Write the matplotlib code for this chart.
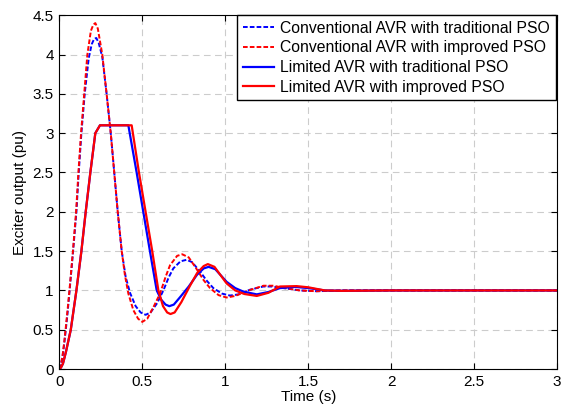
import matplotlib
matplotlib.use("Agg")
import matplotlib.pyplot as plt

plt.rcParams['font.family'] = ['Liberation Sans', 'DejaVu Sans']

# Conventional AVR with traditional PSO (blue dashed)
t_ct = [0, 0.01, 0.02, 0.03, 0.04, 0.05, 0.062, 0.083, 0.103, 0.117, 0.133, 0.153, 0.177,
        0.195, 0.21, 0.223, 0.237, 0.259, 0.285, 0.31, 0.331, 0.352, 0.376, 0.4, 0.426,
        0.46, 0.49, 0.52, 0.55, 0.59, 0.627, 0.66, 0.687, 0.73, 0.767, 0.8, 0.848, 0.89, 0.928,
        0.98, 1.028, 1.08, 1.15, 1.229, 1.28, 1.35, 1.45, 1.55, 1.7, 2.0, 2.5, 3.0]
y_ct = [0, 0.06, 0.17, 0.33, 0.52, 0.72, 1.0, 1.5, 2.0, 2.5, 3.0, 3.5, 3.95,
        4.13, 4.2, 4.21, 4.15, 3.97, 3.5, 3.0, 2.5, 2.0, 1.5, 1.17, 0.97,
        0.8, 0.72, 0.69, 0.72, 0.84, 1.0, 1.17, 1.28, 1.37, 1.39, 1.36, 1.24, 1.12, 1.03,
        0.96, 0.935, 0.95, 1.01, 1.05, 1.05, 1.03, 1.0, 0.99, 1.0, 1.0, 1.0, 1.0]

# Conventional AVR with improved PSO (red dashed)
t_ci = [0, 0.01, 0.02, 0.03, 0.04, 0.05, 0.061, 0.082, 0.101, 0.115, 0.131, 0.15, 0.169,
        0.19, 0.205, 0.217, 0.232, 0.259, 0.285, 0.31, 0.331, 0.352, 0.376, 0.395, 0.416,
        0.446, 0.475, 0.5, 0.53, 0.57, 0.607, 0.64, 0.667, 0.71, 0.741, 0.78, 0.828, 0.87, 0.908,
        0.96, 1.008, 1.06, 1.14, 1.23, 1.29, 1.36, 1.45, 1.55, 1.7, 2.0, 2.5, 3.0]
y_ci = [0, 0.06, 0.18, 0.35, 0.55, 0.76, 1.0, 1.5, 2.0, 2.5, 3.0, 3.5, 4.0,
        4.3, 4.38, 4.4, 4.33, 4.0, 3.5, 3.0, 2.5, 2.0, 1.5, 1.2, 0.96,
        0.75, 0.64, 0.6, 0.64, 0.8, 0.96, 1.17, 1.32, 1.44, 1.46, 1.42, 1.27, 1.13, 1.03,
        0.94, 0.91, 0.93, 1.0, 1.06, 1.06, 1.03, 1.0, 0.99, 1.0, 1.0, 1.0, 1.0]

# Limited AVR with traditional PSO (blue solid)
t_lt = [0, 0.01, 0.022, 0.04, 0.069, 0.103, 0.133, 0.159, 0.187, 0.217, 0.245, 0.416,
        0.466, 0.506, 0.546, 0.587, 0.615, 0.64, 0.663, 0.69, 0.73, 0.78, 0.83, 0.87,
        0.9, 0.94, 1.008, 1.06, 1.109, 1.19, 1.26, 1.33, 1.42, 1.5, 1.6, 1.7, 2.0, 2.5, 3.0]
y_lt = [0, 0.02, 0.07, 0.22, 0.5, 1.0, 1.5, 2.0, 2.5, 3.0, 3.1, 3.1,
        2.5, 2.0, 1.5, 1.0, 0.88, 0.82, 0.8, 0.82, 0.92, 1.05, 1.2, 1.28,
        1.3, 1.27, 1.11, 1.03, 0.985, 0.95, 0.98, 1.03, 1.045, 1.03, 1.0, 0.995, 1.0, 1.0, 1.0]

# Limited AVR with improved PSO (red solid)
t_li = [0, 0.01, 0.022, 0.04, 0.069, 0.103, 0.133, 0.159, 0.187, 0.217, 0.245, 0.436,
        0.48, 0.52, 0.56, 0.597, 0.625, 0.65, 0.67, 0.695, 0.735, 0.785, 0.83, 0.87,
        0.895, 0.935, 1.008, 1.06, 1.115, 1.19, 1.26, 1.33, 1.43, 1.5, 1.6, 1.7, 2.0, 2.5, 3.0]
y_li = [0, 0.02, 0.07, 0.22, 0.5, 1.0, 1.5, 2.0, 2.5, 3.0, 3.1, 3.1,
        2.5, 2.0, 1.5, 1.0, 0.8, 0.72, 0.7, 0.72, 0.85, 1.05, 1.22, 1.31,
        1.335, 1.3, 1.09, 1.0, 0.955, 0.93, 0.97, 1.05, 1.055, 1.04, 1.0, 0.995, 1.0, 1.0, 1.0]

labels = ['Conventional AVR with traditional PSO',
          'Conventional AVR with improved PSO',
          'Limited AVR with traditional PSO',
          'Limited AVR with improved PSO']

fig = plt.figure(figsize=(5.65, 4.11), dpi=100)
ax = fig.add_axes([0.105, 0.102, 0.881, 0.861])

dash = (2.4, 1.1)
ax.plot(t_ct, y_ct, color='blue', lw=1.4, dashes=dash, label=labels[0])
ax.plot(t_ci, y_ci, color='red', lw=1.4, dashes=dash, label=labels[1])
ax.plot(t_lt, y_lt, color='blue', lw=1.6, label=labels[2])
ax.plot(t_li, y_li, color='red', lw=1.6, label=labels[3])

ax.set_xlim(0, 3)
ax.set_ylim(0, 4.5)
ax.set_xticks([0, 0.5, 1, 1.5, 2, 2.5, 3])
ax.set_xticklabels(['0', '0.5', '1', '1.5', '2', '2.5', '3'])
ax.set_yticks([0, 0.5, 1, 1.5, 2, 2.5, 3, 3.5, 4, 4.5])
ax.set_yticklabels(['0', '0.5', '1', '1.5', '2', '2.5', '3', '3.5', '4', '4.5'])
ax.tick_params(direction='in', top=True, right=True, labelsize=11, length=4, pad=4)
ax.grid(True, color='#cccccc', linestyle=(0, (6, 4)), lw=0.8)
ax.set_xlabel('Time (s)', fontsize=11, labelpad=1)
ax.set_ylabel('Exciter output (pu)', fontsize=11, labelpad=4)

leg = ax.legend(loc='upper right', bbox_to_anchor=(0.997, 1.0), fontsize=11.3,
                fancybox=False, edgecolor='black', framealpha=1, borderaxespad=0,
                handlelength=2.0, handletextpad=0.4, labelspacing=0.3,
                borderpad=0.35)
leg.get_frame().set_linewidth(1.0)

fig.savefig('out.png', dpi=100)
